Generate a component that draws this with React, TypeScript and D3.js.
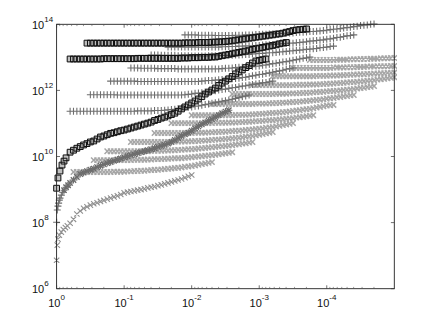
import * as d3 from "d3";

// log10(x) grid shared by the horizontal rows
const logXGrid = [
  0, -0.05, -0.1, -0.15, -0.2, -0.25, -0.3, -0.35, -0.4, -0.45, -0.5, -0.55, -0.6, -0.65, -0.7, -0.75, -0.8, -0.85, -0.9, -0.95,
  -1, -1.05, -1.1, -1.15, -1.2, -1.25, -1.3, -1.35, -1.4, -1.45, -1.5, -1.55, -1.6, -1.65, -1.7, -1.75, -1.8, -1.85, -1.9, -1.95,
  -2, -2.05, -2.1, -2.15, -2.2, -2.25, -2.3, -2.35, -2.4, -2.45, -2.5, -2.55, -2.6, -2.65, -2.7, -2.75, -2.8, -2.85, -2.9, -2.95,
  -3, -3.05, -3.1, -3.15, -3.2, -3.25, -3.3, -3.35, -3.4, -3.45, -3.5, -3.55, -3.6, -3.65, -3.7, -3.75, -3.8, -3.85, -3.9, -3.95,
  -4, -4.05, -4.1, -4.15, -4.2, -4.25, -4.3, -4.35, -4.4, -4.45, -4.5, -4.55, -4.6, -4.65, -4.7, -4.75, -4.8, -4.85, -4.9, -4.95, -5,
];

const xTickExps = [0, -1, -2, -3, -4];
const yTickExps = [6, 8, 10, 12, 14];

// [index of first grid point, log10(y) values]
const crossRows: [number, number[]][] = [
  [5, [9.53,9.53,9.53,9.53,9.53,9.53,9.53,9.53,9.53,9.53,9.53,9.53,9.54,9.54,9.54,9.54,9.55,9.55,9.56,9.56,9.57,9.57,9.58,9.59,9.6,9.6,9.61,9.62,9.63,9.64,9.65,9.66,9.67,9.69,9.7,9.71,9.73,9.75,9.77,9.79,9.81,9.83]],
  [11, [9.89,9.89,9.89,9.89,9.89,9.89,9.89,9.89,9.89,9.89,9.89,9.89,9.9,9.9,9.9,9.9,9.91,9.91,9.92,9.92,9.92,9.93,9.93,9.94,9.95,9.95,9.95,9.96,9.97,9.98,9.99,10,10.01,10.02,10.03,10.04,10.05,10.07,10.08,10.1,10.11,10.13]],
  [15, [10.16,10.16,10.16,10.16,10.16,10.16,10.16,10.16,10.16,10.16,10.16,10.16,10.16,10.17,10.17,10.17,10.17,10.18,10.18,10.19,10.19,10.2,10.2,10.21,10.22,10.22,10.23,10.24,10.25,10.26,10.27,10.28,10.29,10.3,10.31,10.32,10.33,10.34,10.36,10.37,10.39,10.4,10.42,10.44]],
  [22, [10.44,10.44,10.44,10.44,10.44,10.44,10.44,10.44,10.44,10.44,10.44,10.44,10.44,10.45,10.45,10.45,10.45,10.46,10.46,10.47,10.47,10.48,10.48,10.49,10.5,10.51,10.51,10.52,10.53,10.54,10.55,10.56,10.57,10.58,10.6,10.61,10.62,10.64,10.66,10.68,10.7,10.72,10.74]],
  [29, [10.71,10.71,10.71,10.71,10.71,10.71,10.71,10.71,10.71,10.71,10.71,10.71,10.72,10.72,10.72,10.72,10.73,10.73,10.74,10.74,10.75,10.75,10.76,10.77,10.78,10.78,10.79,10.8,10.81,10.82,10.83,10.84,10.85,10.87,10.88,10.89,10.91,10.93,10.95,10.97,10.99,11.01]],
  [34, [11.01,11.01,11.01,11.01,11.01,11.01,11.01,11.01,11.01,11.01,11.01,11.01,11.01,11.02,11.02,11.02,11.02,11.03,11.03,11.03,11.04,11.04,11.05,11.05,11.06,11.07,11.07,11.08,11.09,11.1,11.1,11.11,11.12,11.13,11.14,11.15,11.16,11.18,11.19,11.2,11.22,11.23,11.25]],
  [40, [11.25,11.25,11.25,11.25,11.25,11.25,11.25,11.25,11.25,11.25,11.25,11.25,11.25,11.26,11.26,11.26,11.26,11.27,11.27,11.28,11.29,11.29,11.3,11.31,11.32,11.32,11.33,11.34,11.35,11.36,11.38,11.39,11.4,11.42,11.43,11.44,11.46,11.48,11.5,11.52,11.54,11.55,11.56]],
  [46, [11.59,11.59,11.59,11.59,11.59,11.59,11.59,11.59,11.59,11.59,11.59,11.59,11.59,11.6,11.6,11.6,11.6,11.61,11.61,11.62,11.62,11.63,11.63,11.64,11.65,11.65,11.66,11.67,11.68,11.69,11.7,11.71,11.72,11.73,11.75,11.76,11.77,11.79,11.8,11.82,11.83,11.85,11.86]],
  [52, [11.89,11.89,11.89,11.89,11.89,11.89,11.89,11.89,11.89,11.89,11.89,11.89,11.89,11.9,11.9,11.9,11.9,11.91,11.91,11.91,11.92,11.92,11.93,11.93,11.94,11.95,11.95,11.96,11.97,11.98,11.98,11.99,12,12.01,12.02,12.03,12.04,12.06,12.07,12.08,12.1,12.11,12.13]],
  [58, [12.16,12.16,12.16,12.16,12.16,12.16,12.16,12.16,12.16,12.16,12.16,12.16,12.16,12.17,12.17,12.17,12.17,12.18,12.18,12.18,12.19,12.19,12.2,12.2,12.21,12.22,12.22,12.23,12.24,12.25,12.25,12.26,12.27,12.28,12.29,12.3,12.31,12.33,12.34,12.35,12.37,12.38,12.4]],
  [64, [12.43,12.43,12.43,12.43,12.43,12.43,12.43,12.43,12.43,12.43,12.43,12.43,12.43,12.44,12.44,12.44,12.44,12.45,12.45,12.45,12.46,12.46,12.47,12.47,12.48,12.48,12.49,12.49,12.5,12.5,12.51,12.51,12.52,12.52,12.53,12.53,12.54]],
  [70, [12.68,12.68,12.68,12.68,12.68,12.68,12.68,12.68,12.68,12.68,12.68,12.68,12.69,12.69,12.69,12.69,12.7,12.7,12.7,12.71,12.71,12.71,12.72,12.72,12.72,12.73,12.73,12.73,12.73,12.74,12.74]],
  [75, [12.92,12.92,12.92,12.92,12.92,12.92,12.92,12.92,12.93,12.93,12.93,12.93,12.94,12.94,12.94,12.95,12.95,12.95,12.96,12.96,12.96,12.97,12.97,12.97,12.98,12.98]],
];

const plusRows: [number, number[]][] = [
  [38, [13.68,13.68,13.68,13.68,13.67,13.67,13.67,13.67,13.67,13.66,13.66,13.66,13.66,13.66,13.66,13.67,13.67,13.67,13.68,13.68,13.68,13.69,13.69,13.7,13.7,13.71,13.71,13.72,13.72,13.73,13.73,13.74,13.74,13.75,13.76,13.76,13.77,13.78,13.78,13.79,13.8,13.81,13.82,13.84,13.85,13.86,13.87,13.89,13.9,13.91,13.93,13.94,13.96,13.97,13.98,14,14.01]],
  [33, [13.31,13.31,13.31,13.31,13.31,13.31,13.31,13.31,13.31,13.31,13.31,13.31,13.31,13.31,13.31,13.31,13.32,13.32,13.33,13.33,13.33,13.34,13.34,13.35,13.35,13.35,13.36,13.36,13.37,13.38,13.38,13.39,13.4,13.41,13.41,13.42,13.43,13.43,13.44,13.45,13.46,13.47,13.49,13.5,13.51,13.52,13.53,13.55,13.56,13.58,13.6,13.61,13.63,13.65,13.66,13.68]],
  [28, [13.07,13.07,13.07,13.06,13.06,13.06,13.06,13.06,13.05,13.05,13.05,13.05,13.04,13.04,13.04,13.04,13.04,13.05,13.05,13.05,13.05,13.06,13.06,13.06,13.06,13.07,13.07,13.08,13.09,13.09,13.1,13.11,13.12,13.12,13.13,13.14,13.14,13.15,13.16,13.17,13.18,13.19,13.2,13.21,13.22,13.23,13.24,13.25,13.26,13.27,13.29,13.3,13.31,13.33,13.34]],
  [22, [12.68,12.68,12.68,12.67,12.67,12.67,12.67,12.67,12.66,12.66,12.66,12.66,12.66,12.66,12.65,12.65,12.65,12.65,12.65,12.65,12.65,12.65,12.65,12.65,12.65,12.65,12.65,12.66,12.67,12.67,12.68,12.69,12.7,12.7,12.71,12.72,12.72,12.73,12.74,12.76,12.77,12.79,12.81,12.82,12.84,12.86,12.87,12.89,12.91,12.93,12.95,12.97,12.99,13.01]],
  [16, [12.28,12.28,12.28,12.28,12.28,12.28,12.28,12.28,12.27,12.27,12.27,12.27,12.27,12.27,12.27,12.27,12.27,12.27,12.27,12.27,12.27,12.27,12.27,12.27,12.27,12.27,12.27,12.28,12.29,12.3,12.3,12.31,12.32,12.33,12.34,12.34,12.35,12.36,12.37,12.39,12.4,12.42,12.44,12.46,12.48,12.49,12.51,12.53,12.55,12.57,12.59,12.61,12.64,12.66,12.68]],
  [10, [11.87,11.87,11.87,11.87,11.87,11.87,11.87,11.87,11.86,11.86,11.86,11.86,11.86,11.86,11.86,11.86,11.86,11.86,11.86,11.86,11.86,11.86,11.86,11.86,11.86,11.86,11.86,11.86,11.87,11.88,11.89,11.91,11.92,11.93,11.95,11.96,11.98,11.99,12.01,12.03,12.04,12.06,12.08,12.09,12.11,12.13,12.14,12.16,12.18,12.19,12.21,12.23,12.24,12.26,12.28]],
  [4, [11.37,11.37,11.37,11.37,11.37,11.37,11.37,11.37,11.37,11.37,11.37,11.37,11.37,11.37,11.37,11.37,11.37,11.37,11.37,11.37,11.38,11.38,11.38,11.38,11.38,11.39,11.39,11.39,11.4,11.41,11.42,11.43,11.45,11.46,11.48,11.49,11.5,11.52,11.53,11.55,11.57,11.59,11.61,11.63,11.65,11.67,11.69,11.71,11.73,11.76,11.78,11.81,11.83,11.86]],
];

const squareRows: [number, number[]][] = [
  [9, [13.43,13.43,13.43,13.43,13.43,13.43,13.43,13.43,13.43,13.43,13.43,13.43,13.43,13.43,13.43,13.43,13.43,13.43,13.43,13.43,13.43,13.43,13.43,13.43,13.43,13.43,13.43,13.43,13.43,13.44,13.44,13.44,13.44,13.45,13.45,13.45,13.45,13.46,13.46,13.47,13.47,13.48,13.49,13.5,13.52,13.53,13.55,13.56,13.58,13.59,13.61,13.62,13.64,13.65,13.67,13.68,13.7,13.71,13.73,13.76,13.78,13.81,13.83,13.84,13.85,13.86]],
  [4, [12.95,12.95,12.95,12.95,12.95,12.95,12.95,12.95,12.95,12.95,12.96,12.96,12.96,12.96,12.96,12.96,12.96,12.96,12.96,12.96,12.97,12.97,12.97,12.97,12.97,12.97,12.97,12.97,12.97,12.97,12.97,12.97,12.97,12.98,12.98,12.98,12.99,12.99,12.99,13,13,13,13.01,13.01,13.03,13.05,13.07,13.09,13.11,13.13,13.15,13.17,13.19,13.22,13.24,13.26,13.28,13.3,13.32,13.34,13.36,13.38,13.41,13.43,13.45]],
];

// curves have their own x values, packed closer near x = 1
const mainCurveX = [0,-0.01,-0.02,-0.03,-0.04,-0.05,-0.07,-0.09,-0.11,-0.14,-0.17,-0.2,-0.25,-0.3,-0.35,-0.4,-0.45,-0.5,-0.55,-0.6,-0.65,-0.7,-0.75,-0.8,-0.85,-0.9,-0.95,-1,-1.05,-1.1,-1.15,-1.2,-1.25,-1.3,-1.35,-1.4,-1.45,-1.5,-1.55,-1.6,-1.65,-1.7,-1.75,-1.8,-1.85,-1.9,-1.95,-2,-2.05,-2.1,-2.15,-2.2,-2.25,-2.3,-2.35,-2.4,-2.45,-2.5,-2.55];
const mainCurveY = [8.01,8.38,8.5,8.59,8.68,8.74,8.83,8.92,8.98,9.07,9.13,9.2,9.29,9.38,9.47,9.51,9.56,9.6,9.63,9.68,9.72,9.76,9.8,9.83,9.87,9.91,9.94,9.98,10.01,10.04,10.07,10.1,10.13,10.16,10.19,10.22,10.25,10.29,10.32,10.35,10.39,10.44,10.5,10.56,10.62,10.67,10.72,10.78,10.85,10.91,10.97,11.03,11.08,11.13,11.19,11.25,11.31,11.36,11.4];

const lowCurveX = [0,-0.01,-0.02,-0.04,-0.07,-0.1,-0.13,-0.16,-0.2,-0.25,-0.3,-0.35,-0.4,-0.45,-0.5,-0.55,-0.6,-0.65,-0.7,-0.75,-0.8,-0.85,-0.9,-0.95,-1,-1.05,-1.1,-1.15,-1.2,-1.25,-1.3,-1.35,-1.4,-1.45,-1.5,-1.55,-1.6,-1.65,-1.7,-1.75,-1.8,-1.85,-1.9,-1.95,-2];
const lowCurveY = [6.86,7.32,7.5,7.62,7.71,7.79,7.85,7.9,7.98,8.1,8.26,8.35,8.43,8.48,8.53,8.57,8.6,8.64,8.67,8.71,8.74,8.78,8.81,8.85,8.9,8.92,8.94,8.96,8.98,9,9.02,9.05,9.07,9.09,9.12,9.14,9.17,9.2,9.23,9.26,9.29,9.32,9.36,9.4,9.44];

const squareCurveX = [0,-0.02,-0.05,-0.08,-0.11,-0.14,-0.2,-0.25,-0.3,-0.35,-0.4,-0.45,-0.5,-0.55,-0.6,-0.65,-0.7,-0.75,-0.8,-0.85,-0.9,-0.95,-1,-1.05,-1.1,-1.15,-1.2,-1.25,-1.3,-1.35,-1.4,-1.45,-1.5,-1.55,-1.6,-1.65,-1.7,-1.75,-1.8,-1.85,-1.9,-1.95,-2,-2.05,-2.1,-2.15,-2.2,-2.25,-2.3,-2.35,-2.4,-2.45,-2.5,-2.55,-2.6,-2.65,-2.7,-2.75,-2.8,-2.85,-2.9,-2.95,-3,-3.05,-3.1];
const squareCurveY = [9.04,9.35,9.56,9.74,9.86,9.96,10.13,10.19,10.25,10.3,10.35,10.39,10.44,10.47,10.53,10.59,10.62,10.66,10.7,10.72,10.75,10.78,10.8,10.83,10.86,10.89,10.92,10.95,10.98,11.01,11.04,11.09,11.12,11.16,11.19,11.23,11.27,11.31,11.37,11.44,11.5,11.56,11.62,11.68,11.74,11.81,11.89,11.95,12.01,12.07,12.15,12.22,12.28,12.35,12.42,12.5,12.56,12.62,12.69,12.75,12.83,12.89,12.91,12.93,12.95];

const width = 436;
const height = 325;
const plotLeft = 56.6;
const plotRight = 394.3;
const plotTop = 24.3;
const plotBottom = 288.7;

const xScale = d3.scaleLog().domain([1, 1e-5]).range([plotLeft, plotRight]);
const yScale = d3.scaleLog().domain([1e6, 1e14]).range([plotBottom, plotTop]);

type Pt = [number, number];

const toPts = (xs: number[], ys: number[]): Pt[] =>
  ys.map((y, i) => [xScale(10 ** xs[i]), yScale(10 ** y)] as Pt);
const rowPts = ([start, ys]: [number, number[]]) => toPts(logXGrid.slice(start), ys);

const crossMark = ([x, y]: Pt) => {
  const r = 2.7;
  return `M${x - r},${y - r}L${x + r},${y + r}M${x - r},${y + r}L${x + r},${y - r}`;
};
const plusMark = ([x, y]: Pt) => {
  const r = 3.5;
  return `M${x - r},${y}L${x + r},${y}M${x},${y - r}L${x},${y + r}`;
};
const squareMark = ([x, y]: Pt) => {
  const r = 2.9;
  return `M${x - r},${y - r}H${x + r}V${y + r}H${x - r}Z`;
};

const crossD = crossRows.map(rowPts).flat().map(crossMark).join("");
const lowCrossD = toPts(lowCurveX, lowCurveY).map(crossMark).join("");
const mainCrossD = toPts(mainCurveX.slice(8), mainCurveY.slice(8)).map(crossMark).join("");
const plusD = [...plusRows.map(rowPts), toPts(mainCurveX, mainCurveY)].flat().map(plusMark).join("");
const squareD = [...squareRows.map(rowPts), toPts(squareCurveX, squareCurveY)].flat().map(squareMark).join("");

const xMinor = xScale.ticks().filter((t) => !Number.isInteger(Math.round(Math.log10(t) * 1000) / 1000));

const labelStyle = { fontFamily: "'Liberation Sans', Arial, sans-serif", fill: "#111" };

export default function App() {
  return (
    <svg width={width} height={height} style={{ position: "absolute", left: 0, top: 0 }}>
      <defs>
        <filter id="soft" x="0" y="0" width="100%" height="100%">
          <feGaussianBlur stdDeviation={0.35} />
        </filter>
      </defs>
      <rect width={width} height={height} fill="#fff" />
      <g filter="url(#soft)">
        <path d={crossD} fill="none" stroke="#a6a6a6" strokeWidth={1.5} />
        <path d={lowCrossD} fill="none" stroke="#909090" strokeWidth={1.1} />
        <path d={mainCrossD} fill="none" stroke="#6a6a6a" strokeWidth={1.3} />
        <path d={plusD} fill="none" stroke="#6e6e6e" strokeWidth={1.1} />
        <path d={squareD} fill="rgba(50,50,50,0.3)" fillRule="nonzero" stroke="#111" strokeWidth={1} />
      </g>

      <rect
        x={plotLeft}
        y={plotTop}
        width={plotRight - plotLeft}
        height={plotBottom - plotTop}
        fill="none"
        stroke="#222"
        strokeWidth={0.9}
      />
      {xMinor.map((t) => (
        <g key={t} stroke="#555" strokeWidth={0.6}>
          <line x1={xScale(t)} x2={xScale(t)} y1={plotBottom} y2={plotBottom - 1.8} />
          <line x1={xScale(t)} x2={xScale(t)} y1={plotTop} y2={plotTop + 1.8} />
        </g>
      ))}
      {xTickExps.map((e) => (
        <g key={e}>
          <g stroke="#333" strokeWidth={0.7}>
            <line x1={xScale(10 ** e)} x2={xScale(10 ** e)} y1={plotBottom} y2={plotBottom - 3.4} />
            <line x1={xScale(10 ** e)} x2={xScale(10 ** e)} y1={plotTop} y2={plotTop + 3.4} />
          </g>
          <text x={xScale(10 ** e)} y={307} textAnchor="middle" style={labelStyle} fontSize={11}>
            10
            <tspan dy={-7} fontSize={8}>
              {e === 0 ? "0" : `-${-e}`}
            </tspan>
          </text>
        </g>
      ))}
      {yTickExps.map((e) => (
        <g key={e}>
          <g stroke="#333" strokeWidth={0.7}>
            <line x1={plotLeft} x2={plotLeft + 3.4} y1={yScale(10 ** e)} y2={yScale(10 ** e)} />
            <line x1={plotRight} x2={plotRight - 3.4} y1={yScale(10 ** e)} y2={yScale(10 ** e)} />
          </g>
          <text x={32} y={yScale(10 ** e) + 4.5} style={labelStyle} fontSize={11}>
            10
            <tspan dy={-7} fontSize={8}>
              {e}
            </tspan>
          </text>
        </g>
      ))}
    </svg>
  );
}
